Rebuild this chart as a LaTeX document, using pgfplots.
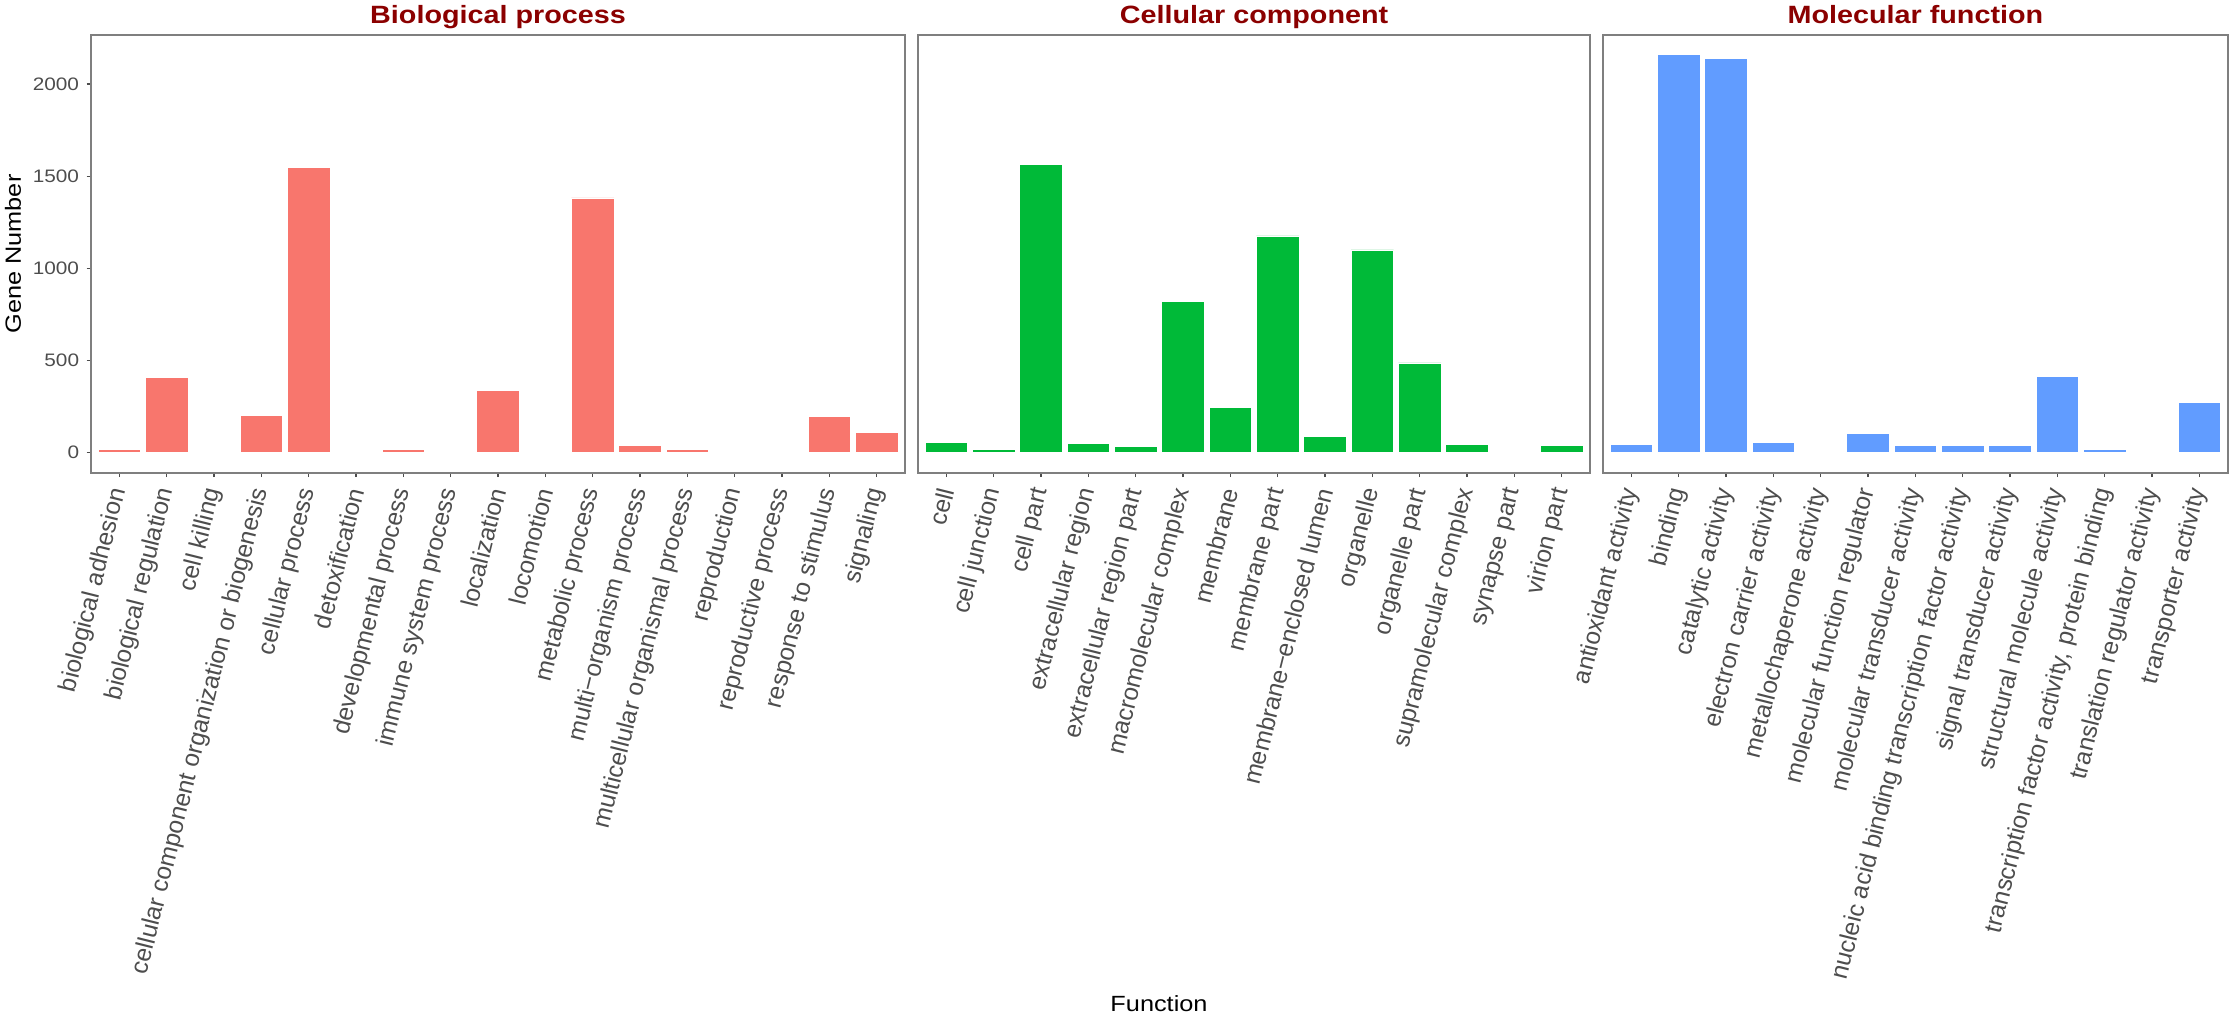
\documentclass[border=0pt]{standalone}
\usepackage{fontspec}
\setmainfont{Liberation Sans}[FakeStretch=1.15]
\newfontfamily\xfont{Liberation Sans}
\usepackage{pgfplots}
\pgfplotsset{compat=1.18}
\definecolor{cBP}{HTML}{F8766D}
\definecolor{cCC}{HTML}{00BA38}
\definecolor{cMF}{HTML}{619CFF}
\definecolor{cTitle}{HTML}{8B0000}
\definecolor{cTick}{HTML}{4D4D4D}
\definecolor{cBorder}{HTML}{7F7F7F}
\pgfplotsset{
  facet/.style={
    scale only axis, height=157.57pt,
    ymin=-108, ymax=2266,
    enlargelimits=false,
    ybar, bar width=0.9,
    axis line style={cBorder, line width=0.72pt},
    tick align=outside, xtick pos=bottom, ytick pos=left,
    major tick length=1.6pt,
    tick style={cTick, line width=0.45pt},
    xticklabel style={font=\xfont\fontsize{8.85}{9}\selectfont, text=cTick, rotate=76, anchor=east, inner sep=0pt},
    xticklabel shift=4pt,
    every axis title/.style={font=\fontsize{9}{10}\selectfont\bfseries, text=cTitle, at={(0.5,1)}, anchor=base, yshift=4.3pt, inner sep=0pt},
    /pgf/number format/assume math mode=true,
    /pgf/number format/1000 sep={},
    yticklabel style={font=\fontsize{6.5}{7}\selectfont, text=cTick, inner sep=0pt, anchor=east},
    yticklabel shift=2.5pt,
    every axis plot/.append style={draw=white, line width=0.3pt},
  }
}
\begin{document}
\begin{tikzpicture}
\useasboundingbox (0,0) rectangle (802.8pt,365.76pt);
% Biological process
\begin{axis}[facet, at={(32.76pt,195.59pt)}, anchor=south west, width=293.08pt,
  xmin=0.4, xmax=17.6, title={Biological process},
  ytick={0,500,1000,1500,2000},
  xtick={1,...,17},
  xticklabels={biological adhesion, biological regulation, cell killing, cellular component organization or biogenesis, cellular process, detoxification, developmental process, immune system process, localization, locomotion, metabolic process, multi−organism process, multicellular organismal process, reproduction, reproductive process, response to stimulus, signaling}]
\addplot[fill=cBP] coordinates {(1,16) (2,408) (3,1) (4,203) (5,1547) (6,1) (7,16) (8,5) (9,337) (10,5) (11,1382) (12,38) (13,20) (14,1) (15,1) (16,196) (17,109)};
\end{axis}
% Cellular component
\begin{axis}[facet, at={(330.48pt,195.59pt)}, anchor=south west, width=241.96pt,
  xmin=0.4, xmax=14.6, title={Cellular component},
  ytick=\empty,
  xtick={1,...,14},
  xticklabels={cell, cell junction, cell part, extracellular region, extracellular region part, macromolecular complex, membrane, membrane part, membrane−enclosed lumen, organelle, organelle part, supramolecular complex, synapse part, virion part}]
\addplot[fill=cCC] coordinates {(1,54) (2,18) (3,1563) (4,51) (5,36) (6,822) (7,246) (8,1176) (9,90) (10,1100) (11,487) (12,47) (13,6) (14,40)};
\end{axis}
% Molecular function
\begin{axis}[facet, at={(577.08pt,195.59pt)}, anchor=south west, width=224.93pt,
  xmin=0.4, xmax=13.6, title={Molecular function},
  ytick=\empty,
  xtick={1,...,13},
  xticklabels={antioxidant activity, binding, catalytic activity, electron carrier activity, metallochaperone activity, molecular function regulator, molecular transducer activity, nucleic acid binding transcription factor activity, signal transducer activity, structural molecule activity, {transcription factor activity, protein binding}, translation regulator activity, transporter activity}]
\addplot[fill=cMF] coordinates {(1,47) (2,2158) (3,2139) (4,58) (5,2) (6,103) (7,38) (8,40) (9,40) (10,415) (11,18) (12,2) (13,272)};
\end{axis}
\node[font=\fontsize{7.92}{9}\selectfont, anchor=base, inner sep=0pt] at (417.24pt,1.44pt) {Function};
\node[font=\fontsize{7.92}{9}\selectfont, rotate=90, anchor=center, inner sep=0pt] at (4.68pt,274.32pt) {Gene Number};
\end{tikzpicture}
\end{document}
